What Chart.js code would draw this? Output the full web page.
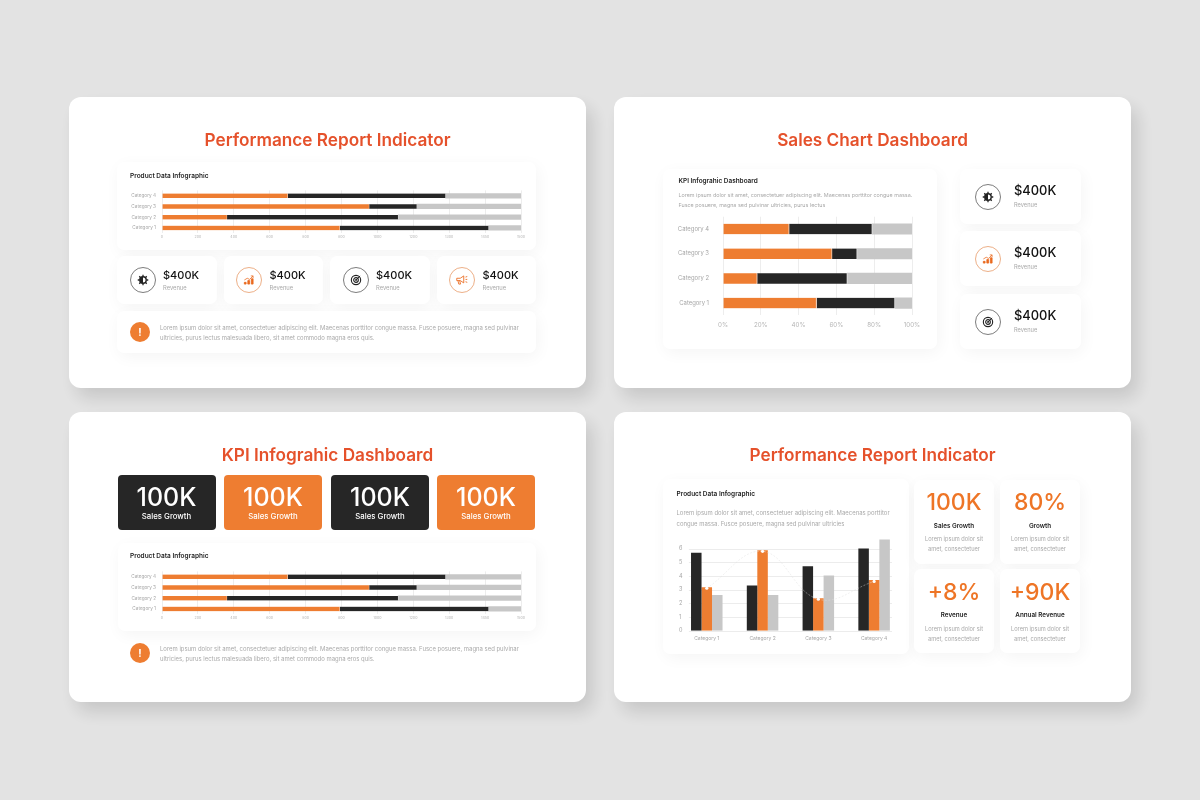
<!DOCTYPE html>
<html>
<head>
<meta charset="utf-8">
<title>Dashboard slides</title>
<script src="https://cdn.jsdelivr.net/npm/chart.js@4"></script>
<style>
  html, body { margin: 0; padding: 0; width: 1200px; height: 800px; overflow: hidden; background: #e3e3e3; font-family: Inter, "Noto Sans", sans-serif; }
  /* the opacity keeps the small text on greyscale antialiasing */
  #page { position: relative; width: 1200px; height: 800px; opacity: .999; }
  .slide, .card, .tile, .t, .dot, canvas, svg { position: absolute; }
  .slide { background: #fff; border-radius: 12px; box-shadow: 7px 10px 18px rgba(0,0,0,.13); }
  .card { background: #fff; border-radius: 7px; box-shadow: 2px 4px 16px rgba(0,0,0,.045); }
  .tile { border-radius: 4px; }
  .t { white-space: nowrap; transform: translateY(-50%); line-height: 1; }
  .t.c { transform: translate(-50%, -50%); }
  .dot { border-radius: 50%; box-sizing: border-box; background: #fff; }
</style>
</head>
<body>
<div id="page"></div>
<script>
// chart data
const barCategories = ['Category 4', 'Category 3', 'Category 2', 'Category 1'];
const orangeShare = [35, 57.7, 18.1, 49.5];
const darkShare = [44, 13.3, 47.7, 41.5];
const greyShare = [21, 29, 34.2, 9];
const unitTicks = ['0', '200', '400', '600', '800', '800', '1000', '1200', '1300', '1450', '1500'];
const percentTicks = ['0%', '20%', '40%', '60%', '80%', '100%'];

const columnCategories = ['Category 1', 'Category 2', 'Category 3', 'Category 4'];
const columnDark = [5.7, 3.3, 4.7, 6];
const columnOrange = [3.18, 5.87, 2.38, 3.7];
const columnGrey = [2.6, 2.6, 4.03, 6.67];
const columnLine = [3.1, 5.8, 2.3, 3.6];

const ORANGE = '#ee7d31', DARK = '#262626', GREY = '#c7c7c7', TITLE = '#e5512b', MUTED = '#a9a9a9', INK = '#1d1d1d';
const page = document.getElementById('page');

function box(cls, x, y, w, h, bg) {
  const d = document.createElement('div');
  d.className = cls;
  d.style.cssText = `left:${x}px;top:${y}px;width:${w}px;height:${h}px;` + (bg ? `background:${bg};` : '');
  page.appendChild(d);
  return d;
}
function text(str, x, y, size, weight, color, center) {
  const d = document.createElement('div');
  d.className = center ? 't c' : 't';
  d.textContent = str;
  d.style.cssText = `left:${x}px;top:${y}px;font-size:${size}px;font-weight:${weight};color:${color};`;
  page.appendChild(d);
}

// little line icons, drawn in a 24 box
const icons = {
  gear: '<circle cx="12" cy="12" r="5.5" fill="none" stroke-width="2.4"/><path d="M12 3v3M12 18v3M3 12h3M18 12h3M5.6 5.6l2 2M16.4 16.4l2 2M5.6 18.4l2-2M16.4 7.6l2-2" stroke-width="2.2"/><path d="M12 6.5a5.5 5.5 0 0 0 0 11z" stroke="none"/>',
  growth: '<path d="M4 19v-3h3v3zM10 19v-6h3v6zM16 19v-9h3v9z" stroke-width="1.4"/><path d="M4 12l5-3 4 2 6-6M15 5h4v4" fill="none" stroke-width="1.3"/>',
  target: '<circle cx="12" cy="12" r="8" fill="none" stroke-width="1.9"/><circle cx="12" cy="12" r="4" fill="none" stroke-width="1.9"/><circle cx="12" cy="12" r="1.2"/><path d="M12 12l7-7" stroke-width="1.6"/>',
  horn: '<path d="M3 9h6l6-4v12l-6-4H3z" fill="none" stroke-width="1.5"/><path d="M5 13l1.5 6h3L8 13M18 7l3-1M18 11h3M18 15l3 1" fill="none" stroke-width="1.5"/>'
};
function icon(name, cx, cy, color, ring) {
  const d = box('dot', cx - 13, cy - 13, 26, 26);
  d.style.border = '1px solid ' + ring;
  const s = document.createElementNS('http://www.w3.org/2000/svg', 'svg');
  s.setAttribute('viewBox', '0 0 24 24');
  s.setAttribute('width', 14);
  s.setAttribute('height', 14);
  s.style.cssText = `left:${cx - 7}px;top:${cy - 7}px;fill:${color};stroke:${color};`;
  s.innerHTML = icons[name];
  page.appendChild(s);
}
function kpi(x, y, w, h, name, orange, iconX, textX, size, small) {
  box('card', x, y, w, h);
  const cy = y + h / 2;
  icon(name, iconX, cy, orange ? '#ea6a1f' : '#222', orange ? '#edb088' : '#7d7d7d');
  text('$400K', textX, cy - 5.5, size, 500, '#111');
  text('Revenue', textX, cy + 8, small, 400, MUTED);
}
function alertDot(cx, cy) {
  box('dot', cx - 10, cy - 10, 20, 20, ORANGE);
  text('!', cx, cy, 10, 700, '#fff', true);
}

// slides
box('slide', 69, 97, 517, 291);
box('slide', 614, 97, 517, 291);
box('slide', 69, 412, 517, 290);
box('slide', 614, 412, 517, 290);

text('Performance Report Indicator', 327.5, 140, 17.2, 600, TITLE, true);
text('Sales Chart Dashboard', 872.5, 140, 17.2, 600, TITLE, true);
text('KPI Infograhic Dashboard', 327.5, 454.5, 17.2, 600, TITLE, true);
text('Performance Report Indicator', 872.5, 454.5, 17.2, 600, TITLE, true);

const LOREM_A = 'Lorem ipsum dolor sit amet, consectetuer adipiscing elit. Maecenas porttitor congue massa. Fusce posuere, magna sed pulvinar';
const LOREM_B = 'ultricies, purus lectus malesuada libero, sit amet commodo magna eros quis.';

// slide 1
box('card', 117, 162, 419, 88);
text('Product Data Infographic', 130, 175.5, 6.5, 600, INK);
kpi(117, 256, 100, 48, 'gear', false, 142.5, 163, 11, 5.8);
kpi(224, 256, 99, 48, 'growth', true, 249, 269.5, 11, 5.8);
kpi(330, 256, 100, 48, 'target', false, 355.5, 376, 11, 5.8);
kpi(436.5, 256, 99, 48, 'horn', true, 461.5, 482.5, 11, 5.8);
box('card', 117, 311, 419, 42);
alertDot(140, 331.5);
text(LOREM_A, 160, 327.5, 5.95, 400, MUTED);
text(LOREM_B, 160, 338, 5.95, 400, MUTED);

// slide 2
box('card', 663, 169, 274, 180);
text('KPI Infograhic Dashboard', 678.5, 181, 6.45, 600, INK);
text('Lorem ipsum dolor sit amet, consectetuer adipiscing elit. Maecenas porttitor congue massa.', 678.5, 196, 5.4, 400, MUTED);
text('Fusce posuere, magna sed pulvinar ultricies, purus lectus', 678.5, 206, 5.4, 400, MUTED);
kpi(960, 169, 121, 55, 'gear', false, 988, 1014, 12.9, 5.7);
kpi(960, 231, 121, 55, 'growth', true, 988, 1014, 12.9, 5.7);
kpi(960, 294, 121, 55, 'target', false, 988, 1014, 12.9, 5.7);

// slide 3
[[117.5, DARK], [224, ORANGE], [331, DARK], [437, ORANGE]].forEach(([x, bg]) => {
  box('tile', x, 475, 98, 55, bg);
  text('100K', x + 49, 496.5, 25, 500, '#fff', true);
  text('Sales Growth', x + 49, 517, 7.8, 500, '#fff', true);
});
box('card', 117.5, 543, 418.5, 88);
text('Product Data Infographic', 130, 556, 6.5, 600, INK);
alertDot(140, 653);
text(LOREM_A, 160, 648.5, 5.95, 400, MUTED);
text(LOREM_B, 160, 659, 5.95, 400, MUTED);

// slide 4
box('card', 662.5, 479, 246.5, 175);
text('Product Data Infographic', 676.5, 494, 6.5, 600, INK);
text('Lorem ipsum dolor sit amet, consectetuer adipiscing elit. Maecenas porttitor', 676.5, 513, 5.95, 400, MUTED);
text('congue massa. Fusce posuere, magna sed pulvinar ultricies', 676.5, 523.5, 5.95, 400, MUTED);
[[914, 479.5, '100K', 'Sales Growth'], [1000, 479.5, '80%', 'Growth'], [914, 569, '+8%', 'Revenue'], [1000, 569, '+90K', 'Annual Revenue']].forEach(([x, y, big, label]) => {
  box('card', x, y, 80, 84);
  text(big, x + 40, y + 22.5, 23, 500, '#ee7526', true);
  text(label, x + 40, y + 46, 6.3, 600, INK, true);
  text('Lorem ipsum dolor sit', x + 40, y + 59.5, 5.7, 400, MUTED, true);
  text('amet, consectetuer', x + 40, y + 69.5, 5.7, 400, MUTED, true);
});

function addCanvas(x, y, w, h) {
  const c = document.createElement('canvas');
  c.width = w;
  c.height = h;
  c.style.cssText = `left:${x}px;top:${y}px;width:${w}px;height:${h}px;`;
  page.appendChild(c);
  return c;
}

// stacked horizontal bars, three of these on the page
function stackedBars(x, y, w, h, cfg) {
  new Chart(addCanvas(x, y, w, h), {
    type: 'bar',
    data: {
      labels: barCategories,
      datasets: [
        { data: orangeShare, backgroundColor: ORANGE, borderColor: '#f6d3bb', borderWidth: { right: cfg.gap }, borderSkipped: false },
        { data: darkShare, backgroundColor: DARK, borderColor: '#e8e8e8', borderWidth: { right: cfg.gap }, borderSkipped: false },
        { data: greyShare, backgroundColor: GREY, borderWidth: 0 }
      ]
    },
    options: {
      indexAxis: 'y',
      responsive: false,
      animation: false,
      devicePixelRatio: 1,
      barThickness: cfg.thick,
      layout: { padding: { top: cfg.top, right: cfg.right, left: 0, bottom: 0 } },
      plugins: { legend: { display: false }, tooltip: { enabled: false } },
      scales: {
        x: {
          stacked: true, min: 0, max: 100,
          afterFit: s => { s.height = cfg.axisH; },
          border: { display: false },
          grid: { color: '#ededed', drawTicks: false },
          ticks: {
            stepSize: 100 / (cfg.ticks.length - 1), autoSkip: false, maxRotation: 0, padding: cfg.tickPad,
            color: '#b5b5b5', font: { family: 'Inter', size: cfg.tickSize },
            callback: (v, i) => cfg.ticks[i]
          }
        },
        y: {
          stacked: true,
          // tick padding would otherwise also push the plot down from the top
          afterFit: s => { s.width = cfg.axisW; s.paddingTop = 0; s.paddingBottom = 0; },
          border: { display: false },
          grid: { display: false, drawTicks: false },
          ticks: { autoSkip: false, padding: cfg.labelPad, color: '#a6a6a6', font: { family: 'Inter', size: cfg.labelSize } }
        }
      }
    }
  });
}

stackedBars(117, 187, 419, 60, { thick: 4.6, top: 3.4, right: 15, axisW: 45, axisH: 13.7, gap: 0.6, ticks: unitTicks, tickSize: 3.6, tickPad: 1.5, labelPad: 6, labelSize: 4.7 });
stackedBars(117, 568, 419, 60, { thick: 4.6, top: 3.4, right: 15, axisW: 45, axisH: 13.7, gap: 0.6, ticks: unitTicks, tickSize: 3.6, tickPad: 1.5, labelPad: 6, labelSize: 4.7 });
stackedBars(663, 212, 274, 125, { thick: 10.5, top: 4.7, right: 25, axisW: 60, axisH: 21.6, gap: 1, ticks: percentTicks, tickSize: 6.2, tickPad: 6, labelPad: 14, labelSize: 5.9 });

// the horizontal rules stop short of the plot on both sides
const insetRules = {
  id: 'insetRules',
  beforeDatasetsDraw(chart) {
    const { ctx, chartArea, scales } = chart;
    ctx.save();
    ctx.strokeStyle = '#ececec';
    ctx.lineWidth = 1;
    scales.y.ticks.forEach(t => {
      const py = Math.round(scales.y.getPixelForValue(t.value)) + 0.5;
      ctx.beginPath();
      ctx.moveTo(chartArea.left + 10, py);
      ctx.lineTo(chartArea.right - 10, py);
      ctx.stroke();
    });
    ctx.restore();
  }
};

new Chart(addCanvas(663, 535, 246, 112), {
  type: 'bar',
  data: {
    labels: columnCategories,
    datasets: [
      { type: 'line', data: columnLine, order: 0, borderColor: 'rgba(222,222,222,.55)', borderWidth: 0.8, borderDash: [2, 1.5], tension: 0.4, pointRadius: 1.6, pointBackgroundColor: '#fff', pointBorderWidth: 0 },
      { data: columnDark, order: 1, backgroundColor: DARK },
      { data: columnOrange, order: 1, backgroundColor: ORANGE },
      { data: columnGrey, order: 1, backgroundColor: GREY }
    ]
  },
  plugins: [insetRules],
  options: {
    responsive: false,
    animation: false,
    devicePixelRatio: 1,
    datasets: { bar: { categoryPercentage: 0.565, barPercentage: 1 } },
    layout: { padding: { top: 3.7, right: 7, left: 0, bottom: 0 } },
    plugins: { legend: { display: false }, tooltip: { enabled: false } },
    scales: {
      x: {
        afterFit: s => { s.height = 16.3; },
        border: { display: false },
        grid: { display: false, drawTicks: false },
        ticks: { padding: 5, color: '#a6a6a6', font: { family: 'Inter', size: 5 } }
      },
      y: {
        min: 0, max: 6.7,
        afterFit: s => { s.width = 15.9; s.paddingTop = 0; s.paddingBottom = 0; },
        border: { display: false },
        grid: { display: false, drawTicks: false },
        // mirrored labels are not clipped to the narrow axis box
        ticks: { mirror: true, stepSize: 1, includeBounds: false, padding: 0, color: '#a6a6a6', font: { family: 'Inter', size: 5.5 } }
      }
    }
  }
});
</script>
</body>
</html>
